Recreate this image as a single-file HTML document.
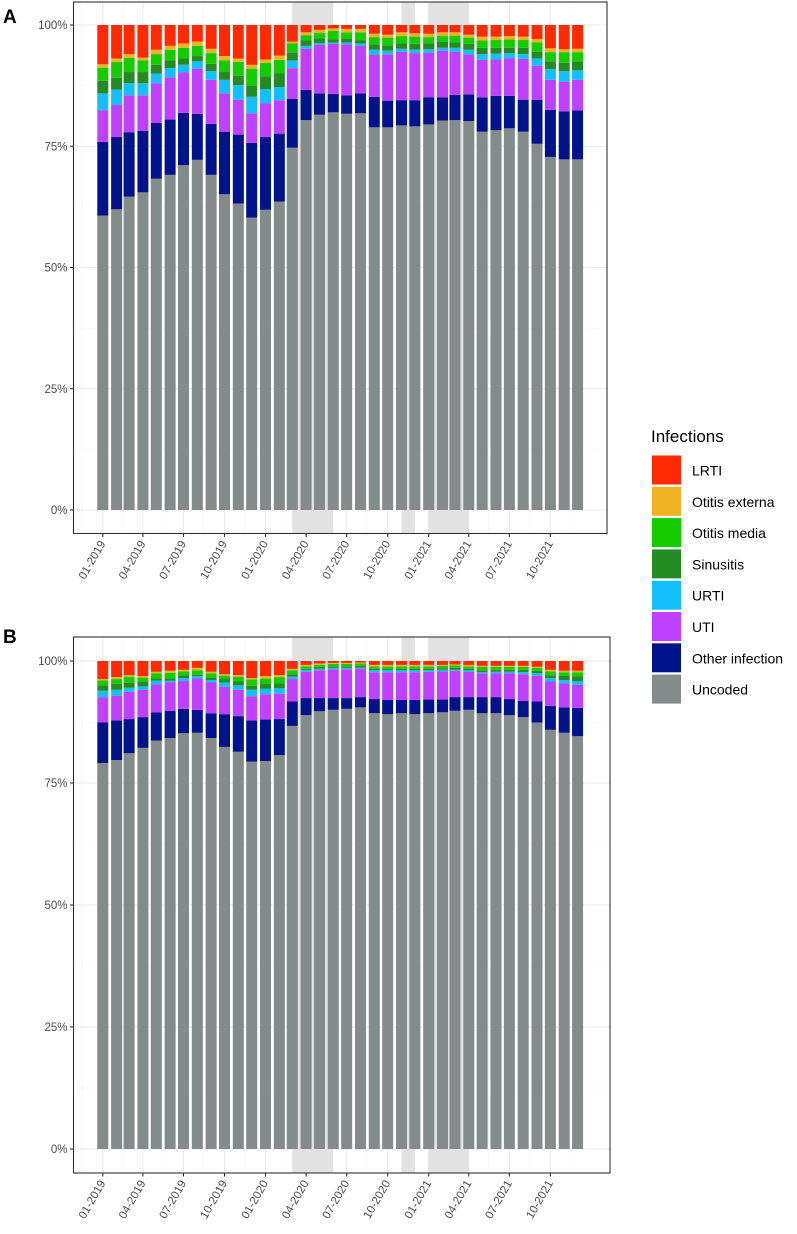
<!DOCTYPE html>
<html><head><meta charset="utf-8">
<style>
html,body{margin:0;padding:0;background:#fff;}
svg{display:block;font-family:"Liberation Sans",Arial,sans-serif;}
</style></head>
<body>
<svg id="chart" width="797" height="1234" viewBox="0 0 797 1234" xmlns="http://www.w3.org/2000/svg"></svg>
<script>
const months = ["2019-01","2019-02","2019-03","2019-04","2019-05","2019-06","2019-07","2019-08","2019-09","2019-10","2019-11","2019-12","2020-01","2020-02","2020-03","2020-04","2020-05","2020-06","2020-07","2020-08","2020-09","2020-10","2020-11","2020-12","2021-01","2021-02","2021-03","2021-04","2021-05","2021-06","2021-07","2021-08","2021-09","2021-10","2021-11","2021-12"];
const seriesNames = ["Uncoded","Other infection","UTI","URTI","Sinusitis","Otitis media","Otitis externa","LRTI"];
const seriesColors = ["#838b8b","#00138a","#bf40ff","#14bfff","#238b22","#14cc00","#f0b323","#ff2a00"];
const tickLabels = ["01-2019","04-2019","07-2019","10-2019","01-2020","04-2020","07-2020","10-2020","01-2021","04-2021","07-2021","10-2021"];
const tickDates = ["2019-01","2019-04","2019-07","2019-10","2020-01","2020-04","2020-07","2020-10","2021-01","2021-04","2021-07","2021-10"];
const yTicks = [0,25,50,75,100];
const yTickLabels = ["0%","25%","50%","75%","100%"];
const shadeStarts = ["2020-03-01","2020-11-01","2021-01-01"];
const shadeEnds = ["2020-06-01","2020-12-01","2021-04-01"];

// Panel A values (% of each month)
const A_uncoded = [60.7,62.0,64.6,65.5,68.3,69.1,71.1,72.2,69.1,65.1,63.2,60.3,61.9,63.6,74.7,80.4,81.5,82.0,81.7,81.8,78.9,78.9,79.3,79.1,79.5,80.3,80.4,80.2,78.0,78.3,78.7,78.0,75.5,72.8,72.3,72.3];
const A_other = [15.2,14.9,13.3,12.7,11.5,11.4,10.8,9.5,10.5,12.9,14.2,15.4,15.0,14.0,10.1,6.2,4.4,3.8,3.8,4.1,6.3,5.5,5.2,5.4,5.6,4.8,5.2,5.5,7.1,7.1,6.7,6.6,9.1,9.7,9.9,10.1];
const A_uti = [6.5,6.6,7.6,7.3,8.2,8.7,8.3,9.3,9.1,7.9,7.2,6.1,7.0,6.9,6.3,8.5,10.0,10.3,10.5,9.8,8.7,9.5,10.0,9.7,9.2,9.6,8.9,8.2,7.7,7.5,7.7,8.4,7.0,6.2,6.1,6.3];
const A_urti = [3.5,3.2,2.5,2.5,2.0,1.9,1.6,1.5,1.8,2.8,3.0,3.4,2.9,2.7,1.6,0.6,0.4,0.3,0.4,0.5,1.0,0.8,0.6,0.7,0.7,0.6,0.8,1.0,1.2,1.2,1.1,1.0,1.5,2.2,2.2,2.0];
const A_sinusitis = [2.6,2.4,2.3,2.3,1.8,1.6,1.3,1.1,1.5,1.6,1.9,2.3,2.6,2.8,1.6,1.1,0.9,0.6,0.8,0.6,1.1,1.1,1.1,1.2,1.2,1.2,1.1,1.2,1.3,1.2,1.1,1.3,1.4,1.6,1.7,1.8];
const A_om = [2.7,3.3,2.9,2.4,2.2,2.2,2.2,2.1,2.2,2.4,2.9,3.5,2.8,2.8,1.9,1.1,1.2,1.8,1.3,1.7,1.5,1.6,1.5,1.5,1.3,1.3,1.4,1.3,1.5,1.6,1.7,1.6,1.9,1.9,2.2,1.9];
const A_oe = [0.7,0.7,0.8,0.6,0.9,0.8,0.9,0.9,0.9,0.9,0.7,0.8,0.7,0.9,0.4,0.6,0.6,0.5,0.7,0.7,0.7,0.6,0.8,0.7,0.7,0.7,0.7,0.6,0.8,0.7,0.7,0.7,0.7,0.8,0.6,0.7];
const A_lrti = [8.1,6.9,6.0,6.7,5.1,4.3,3.8,3.4,4.9,6.4,6.9,8.2,7.1,6.3,3.4,1.5,1.0,0.7,0.8,0.8,1.8,2.0,1.5,1.7,1.8,1.5,1.5,2.0,2.4,2.4,2.3,2.4,2.9,4.8,5.0,4.9];

// Panel B values
const B_uncoded = [79.1,79.7,81.1,82.2,83.7,84.2,85.2,85.3,84.2,82.4,81.4,79.4,79.5,80.7,86.7,88.9,89.7,90.0,90.2,90.5,89.3,89.1,89.3,89.1,89.3,89.5,89.8,90.0,89.3,89.3,88.9,88.5,87.4,85.9,85.3,84.6];
const B_other = [8.3,8.1,7.0,6.3,5.8,5.6,5.0,4.7,5.1,6.7,7.3,8.4,8.5,7.4,5.0,3.5,2.7,2.4,2.2,2.1,2.9,2.9,2.7,2.9,2.8,2.6,2.8,2.6,3.3,3.3,3.3,3.3,4.3,4.9,5.2,5.8];
const B_uti = [5.2,5.1,5.6,5.6,5.7,5.8,5.7,6.4,6.3,5.6,5.4,5.0,5.2,5.2,4.6,5.4,5.7,5.9,5.9,5.8,5.5,5.7,5.7,5.7,5.7,5.8,5.4,5.2,4.9,4.9,5.3,5.5,5.3,5.0,4.9,4.7];
const B_urti = [1.3,1.2,0.8,0.7,0.8,0.4,0.6,0.5,0.5,0.9,0.9,1.3,1.1,1.1,0.5,0.4,0.3,0.3,0.3,0.2,0.4,0.4,0.4,0.4,0.3,0.3,0.2,0.3,0.2,0.3,0.3,0.4,0.5,0.7,0.7,0.8];
const B_sinusitis = [1.1,1.2,1.0,0.9,0.4,0.4,0.6,0.3,0.5,0.7,0.8,0.8,1.0,1.0,0.5,0.2,0.4,0.3,0.3,0.4,0.3,0.3,0.3,0.3,0.3,0.3,0.4,0.3,0.4,0.4,0.4,0.5,0.5,0.6,0.9,1.0];
const B_om = [1.0,1.0,1.3,0.9,1.1,1.2,0.8,0.9,0.9,0.7,1.0,1.3,1.1,1.3,0.8,0.5,0.4,0.5,0.5,0.5,0.5,0.5,0.5,0.5,0.5,0.5,0.5,0.5,0.7,0.6,0.6,0.6,0.6,0.8,0.7,0.8];
const B_oe = [0.3,0.4,0.3,0.3,0.3,0.4,0.3,0.5,0.3,0.3,0.3,0.3,0.5,0.4,0.3,0.3,0.3,0.2,0.2,0.2,0.3,0.3,0.3,0.3,0.3,0.2,0.2,0.3,0.2,0.2,0.2,0.2,0.2,0.3,0.3,0.3];
const B_lrti = [3.7,3.3,2.9,3.1,2.2,2.0,1.8,1.4,2.2,2.7,2.9,3.5,3.1,2.9,1.6,0.8,0.5,0.4,0.4,0.3,0.8,0.8,0.8,0.8,0.8,0.8,0.7,0.8,1.0,1.0,1.0,1.0,1.2,1.8,2.0,2.0];

const svg = document.getElementById('chart');
const NS = 'http://www.w3.org/2000/svg';
function mk(tag, attrs, parent){
  const e = document.createElementNS(NS, tag);
  for (const k in attrs) e.setAttribute(k, attrs[k]);
  (parent||svg).appendChild(e);
  return e;
}
const origin = Date.UTC(2019,0,1);
function dayOf(s){ const p = s.split('-'); return (Date.UTC(+p[0], +p[1]-1, p[2]? +p[2]:1) - origin)/86400000; }
const PX_PER_DAY = 0.4458;
const X0 = 102.8;
function xScale(s){ return X0 + dayOf(s)*PX_PER_DAY; }
const BAR_W = 11;

function drawPanel(cfg){
  const {left,right,top,bottom,y100,y0,label,labelY,series,key} = cfg;
  const yScale = v => y0 - (v/100)*(y0-y100);
  const g = mk('g',{});
  
  
  mk('rect',{x:left,y:top,width:right-left,height:bottom-top,fill:'#fff'},g);
  // minor grid
  for (let i=0;i<yTicks.length-1;i++){
    const y = yScale((yTicks[i]+yTicks[i+1])/2);
    mk('line',{x1:left,x2:right,y1:y,y2:y,stroke:'#f3f3f3','stroke-width':0.6},g);
  }
  const gridDates = ["2018-11-15","2019-02-15","2019-05-15","2019-08-15","2019-11-15","2020-02-15","2020-05-15","2020-08-15","2020-11-15","2021-02-15","2021-05-15","2021-08-15","2021-11-15"];
  gridDates.forEach(d=>{ const x=xScale(d); if(x>left&&x<right) mk('line',{x1:x,x2:x,y1:top,y2:bottom,stroke:'#f3f3f3','stroke-width':0.6},g); });
  yTicks.forEach(v=>{ const y=yScale(v); mk('line',{x1:left,x2:right,y1:y,y2:y,stroke:'#ebebeb','stroke-width':1.1},g); });
  tickDates.forEach(d=>{ const x=xScale(d); mk('line',{x1:x,x2:x,y1:top,y2:bottom,stroke:'#ebebeb','stroke-width':1.1},g); });
  // shading
  shadeStarts.forEach((s,i)=>{
    const r = mk('rect',{x:xScale(s),y:top,width:xScale(shadeEnds[i])-xScale(s),height:bottom-top,fill:'#e2e2e2'},g);
    
    
  });
  // bars
  months.forEach((m,i)=>{
    let total=0; series.forEach(s=>total+=s[i]);
    let cum=0;
    const cx = xScale(m);
    series.forEach((s,j)=>{
      const v = s[i]/total*100;
      const yTop = yScale(cum+v), yBot = yScale(cum);
      const r = mk('rect',{x:cx-BAR_W/2,y:yTop,width:BAR_W,height:Math.max(0,yBot-yTop),fill:seriesColors[j]},g);
      
      
      cum += v;
    });
  });
  mk('rect',{x:left,y:top,width:right-left,height:bottom-top,fill:'none',stroke:'#333','stroke-width':1.1},g);
  // y axis
  yTicks.forEach((v,i)=>{
    const y=yScale(v);
    mk('line',{x1:left-3.5,x2:left,y1:y,y2:y,stroke:'#333','stroke-width':1.1},g);
    const t = mk('text',{x:left-6,y:y+4,'text-anchor':'end','font-size':11.5,fill:'#4d4d4d'},g);
    t.textContent = yTickLabels[i];
    
    
  });
  // x axis
  tickDates.forEach((d,i)=>{
    const x=xScale(d);
    mk('line',{x1:x,x2:x,y1:bottom,y2:bottom+3.5,stroke:'#333','stroke-width':1.1},g);
    const t = mk('text',{x:x+3,y:bottom+10,'text-anchor':'end','font-size':11.5,fill:'#4d4d4d',transform:`rotate(-60 ${x+3} ${bottom+10})`},g);
    t.textContent = tickLabels[i];
    
    
  });
  const pl = mk('text',{x:3,y:labelY,'font-size':19,'font-weight':'bold',fill:'#000'},g);
  pl.textContent = label;
  
  
}

drawPanel({key:'a',label:'A',labelY:23,left:73.5,right:607,top:2,bottom:533.5,y100:25,y0:510,
  series:[A_uncoded,A_other,A_uti,A_urti,A_sinusitis,A_om,A_oe,A_lrti]});
drawPanel({key:'b',label:'B',labelY:643,left:73.5,right:610,top:637,bottom:1173,y100:661,y0:1149,
  series:[B_uncoded,B_other,B_uti,B_urti,B_sinusitis,B_om,B_oe,B_lrti]});

// legend
const lg = mk('g',{});


const lt = mk('text',{x:651,y:442,'font-size':17,fill:'#000'},lg);
lt.textContent = 'Infections';


const legendOrder = [7,6,5,4,3,2,1,0];
legendOrder.forEach((j,k)=>{
  const y = 455.5 + k*31.3;
  const r = mk('rect',{x:652,y:y,width:29,height:29,fill:seriesColors[j]},lg);
  
  
  const t = mk('text',{x:692,y:y+20,'font-size':14,fill:'#000'},lg);
  t.textContent = seriesNames[j];
  
  
});
</script>
</body></html>
